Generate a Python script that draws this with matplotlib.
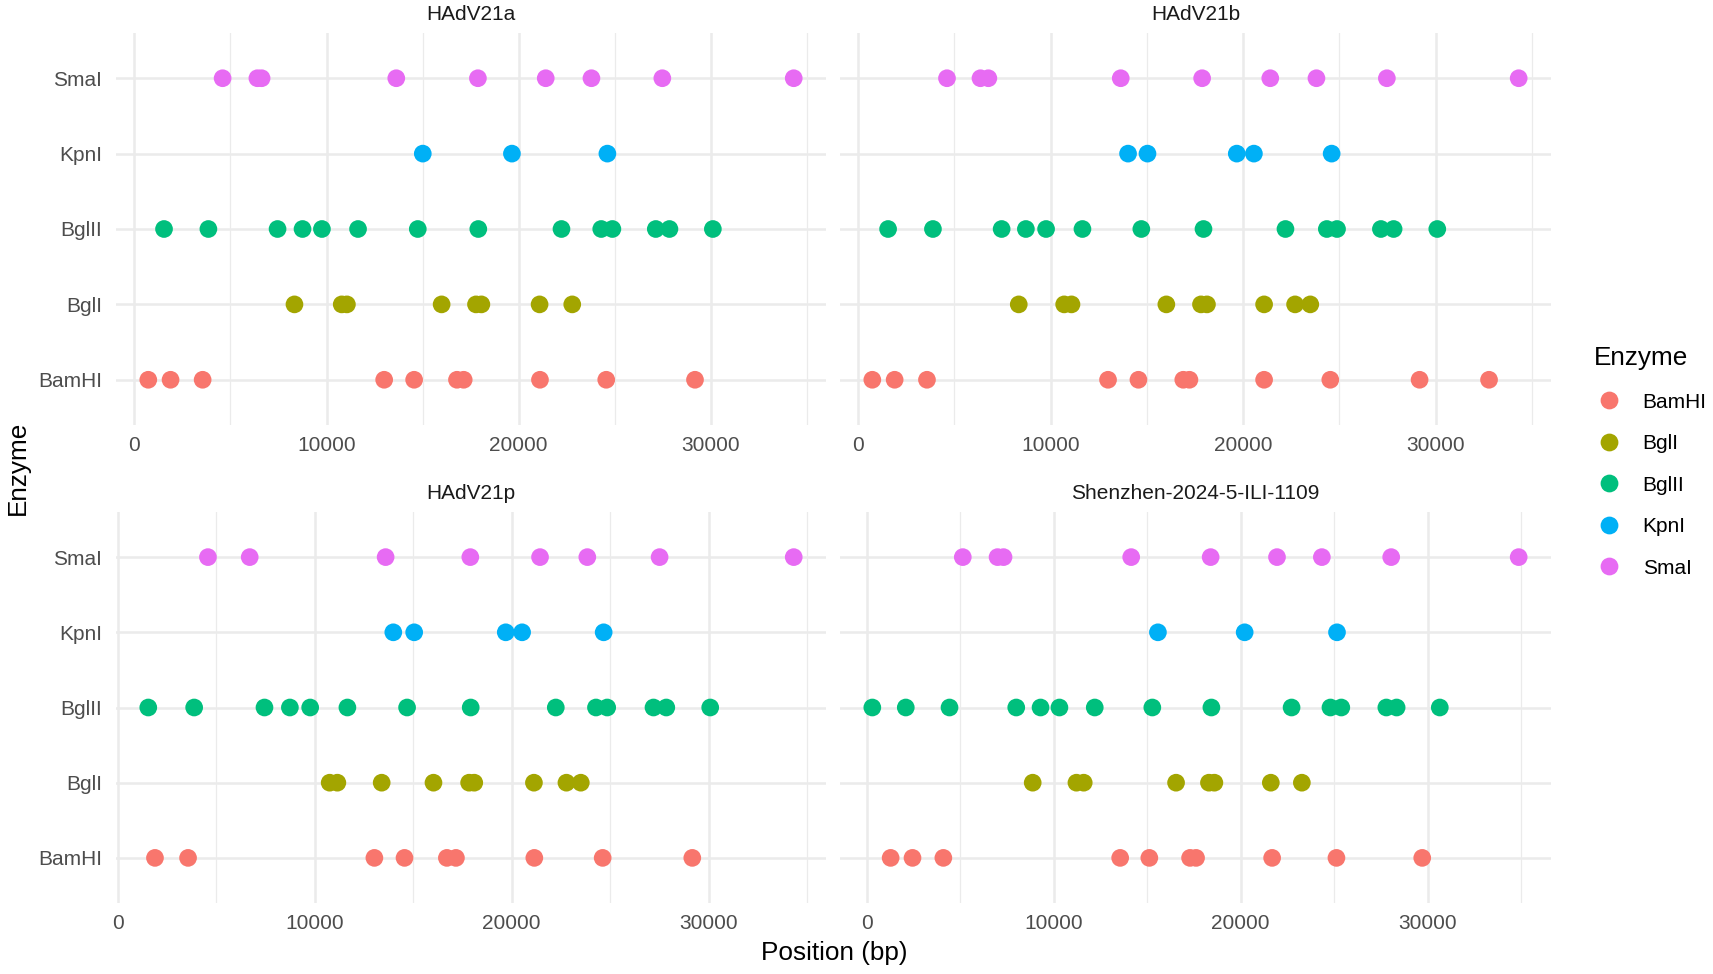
import matplotlib
matplotlib.use("Agg")
import matplotlib.pyplot as plt
from matplotlib.lines import Line2D
from matplotlib.ticker import MultipleLocator

plt.rcParams["font.family"] = ["Liberation Sans", "DejaVu Sans"]

enzymes = ["BamHI", "BglI", "BglII", "KpnI", "SmaI"]
colors = ["#F8766D", "#A3A500", "#00BF7D", "#00B0F6", "#E76BF3"]
titles = ["HAdV21a", "HAdV21b", "HAdV21p", "Shenzhen-2024-5-ILI-1109"]

# cut positions (bp)
a_bamhi = [720, 1880, 3550, 13000, 14560, 16790, 17140, 21110, 24560, 29180]
a_bgli = [8330, 10790, 11060, 15990, 17780, 18060, 21090, 22790]
a_bglii = [1540, 3850, 7450, 8750, 9760, 11640, 14750, 17900, 22230, 24300, 24880, 27140, 27850, 30110]
a_kpni = [15010, 19650, 24620]
a_smai = [4590, 6400, 6620, 13630, 17880, 21410, 23790, 27480, 34320]

b_bamhi = [730, 1890, 3570, 12980, 14560, 16890, 17210, 21090, 24530, 29170, 32780]
b_bgli = [8340, 10700, 11080, 16010, 17810, 18120, 21090, 22700, 23490]
b_bglii = [1550, 3880, 7450, 8710, 9760, 11650, 14710, 17940, 22200, 24350, 24880, 27160, 27820, 30090]
b_kpni = [14020, 15030, 19670, 20560, 24600]
b_smai = [4610, 6350, 6760, 13640, 17870, 21410, 23810, 27470, 34320]

p_bamhi = [1890, 3570, 13030, 14560, 16710, 17170, 21150, 24620, 29170]
p_bgli = [10760, 11150, 13400, 16030, 17840, 18100, 21130, 22780, 23510]
p_bglii = [1550, 3880, 7450, 8740, 9770, 11660, 14690, 17920, 22240, 24280, 24850, 27200, 27850, 30080]
p_kpni = [13990, 15050, 19700, 20530, 24670]
p_smai = [4580, 6700, 13600, 17900, 21440, 23840, 27510, 34320]

s_bamhi = [1270, 2440, 4090, 13550, 15110, 17290, 17610, 21680, 25120, 29710]
s_bgli = [8870, 11210, 11600, 16540, 18300, 18590, 21610, 23270]
s_bglii = [290, 2080, 4420, 7990, 9290, 10300, 12190, 15270, 18430, 22720, 24800, 25380, 27790, 28340, 30650]
s_kpni = [15570, 20210, 25150]
s_smai = [5130, 6990, 7310, 14140, 18390, 21940, 24340, 28050, 34870]

panels = [
    [a_bamhi, a_bgli, a_bglii, a_kpni, a_smai],
    [b_bamhi, b_bgli, b_bglii, b_kpni, b_smai],
    [p_bamhi, p_bgli, p_bglii, p_kpni, p_smai],
    [s_bamhi, s_bgli, s_bglii, s_kpni, s_smai],
]

W, H = 1713, 974
fig = plt.figure(figsize=(W / 100, H / 100), dpi=100)

# panel boxes in pixels: left, top, right, bottom
boxes = [(116, 33, 826, 425), (840, 33, 1551, 425),
         (116, 512, 826, 903), (840, 512, 1551, 903)]

for i, (box, data, title) in enumerate(zip(boxes, panels, titles)):
    l, t, r, b = box
    ax = fig.add_axes([l / W, 1 - b / H, (r - l) / W, (b - t) / H])
    for j, pos in enumerate(data):
        ax.scatter(pos, [j + 1] * len(pos), s=162, color=colors[j],
                   edgecolors="none", zorder=3)
    ax.margins(x=0.05)
    ax.set_ylim(0.4, 5.6)
    ax.set_yticks(range(1, 6))
    ax.set_yticklabels(enzymes)
    ax.xaxis.set_major_locator(MultipleLocator(10000))
    ax.xaxis.set_minor_locator(MultipleLocator(5000))
    ax.grid(which="major", color="#EBEBEB", lw=1.8)
    ax.grid(which="minor", axis="x", color="#EBEBEB", lw=0.9)
    ax.set_axisbelow(True)
    for sp in ax.spines.values():
        sp.set_visible(False)
    ax.tick_params(which="both", length=0, labelsize=15, labelcolor="#4D4D4D")
    ax.tick_params(axis="y", pad=10)
    ax.tick_params(axis="x", pad=8)
    if i % 2 == 1:
        ax.tick_params(axis="y", labelleft=False)
    fig.text((l + r) / 2 / W, 1 - (t - 19) / H, title, ha="center", va="center",
             fontsize=15, color="#1A1A1A")

fig.text(18 / W, 1 - 468 / H, "Enzyme", rotation=90, ha="center", va="center",
         fontsize=18.8)
fig.text(834 / W, 1 - 953 / H, "Position (bp)", ha="center", va="center",
         fontsize=18.8)

handles = [Line2D([], [], ls="none", marker="o", markersize=12.8,
                  markerfacecolor=c, markeredgecolor="none") for c in colors]
fig.legend(handles, enzymes, title="Enzyme", loc="center left",
           bbox_to_anchor=(1575 / W, 1 - 462 / H), frameon=False,
           fontsize=15, title_fontsize=18.8, alignment="left",
           handlelength=1.5, handletextpad=0.85, labelspacing=1.08)

fig.savefig("out.png", dpi=100)
